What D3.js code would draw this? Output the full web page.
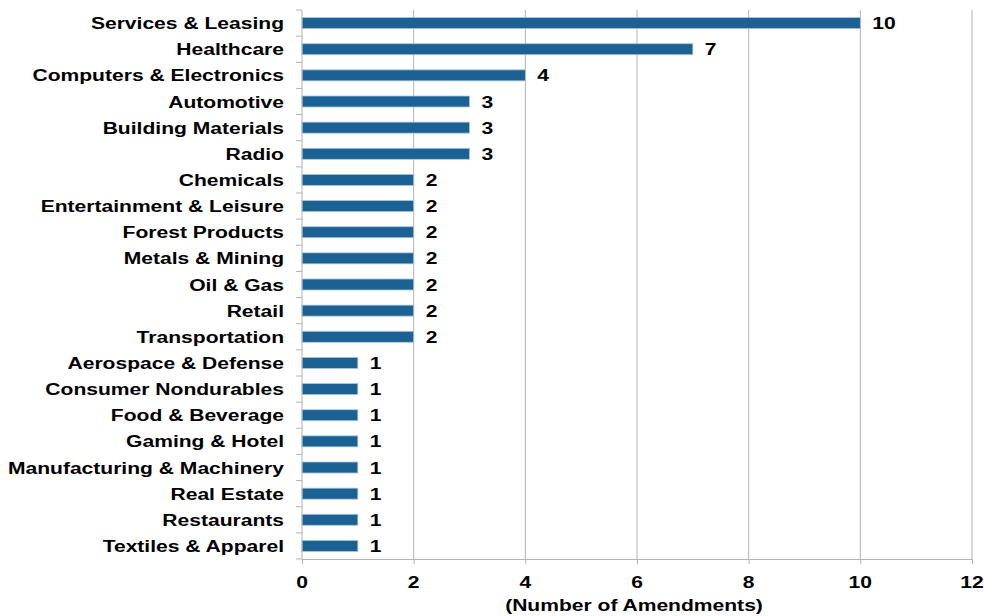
<!DOCTYPE html>
<html>
<head>
<meta charset="utf-8">
<script src="https://cdn.jsdelivr.net/npm/d3@7"></script>
<style>
  html, body { margin: 0; padding: 0; background: #fff; }
  svg { display: block; }
  text { font-family: "Liberation Sans", Arial, sans-serif; font-weight: bold; fill: #000; }
</style>
</head>
<body>
<svg id="chart" width="984" height="616"></svg>
<script>
// Amendments by industry
const categories = [
  "Services & Leasing", "Healthcare", "Computers & Electronics", "Automotive",
  "Building Materials", "Radio", "Chemicals", "Entertainment & Leisure",
  "Forest Products", "Metals & Mining", "Oil & Gas", "Retail", "Transportation",
  "Aerospace & Defense", "Consumer Nondurables", "Food & Beverage",
  "Gaming & Hotel", "Manufacturing & Machinery", "Real Estate", "Restaurants",
  "Textiles & Apparel"
];
const amendments = [10, 7, 4, 3, 3, 3, 2, 2, 2, 2, 2, 2, 2, 1, 1, 1, 1, 1, 1, 1, 1];
const xTicks = [0, 2, 4, 6, 8, 10, 12];
const xTitle = "(Number of Amendments)";

const data = categories.map((c, i) => ({ category: c, value: amendments[i] }));

const svg = d3.select("#chart");
const margin = { left: 302, right: 12, top: 10, bottom: 57 };
const W = 984, H = 616;
const stretch = 1.24;   // wide lettering
const fs = 17;

const x = d3.scaleLinear().domain([0, 12]).range([margin.left, W - margin.right]);
const y = d3.scaleBand().domain(categories).range([margin.top, H - margin.bottom]).paddingInner(0.58).paddingOuter(0.29);
const band = d3.scaleBand().domain(categories).range([margin.top, H - margin.bottom]);

const gridColor = "#b3b3b3";

// places a text at (px, py) with horizontal stretching about its anchor
function placeText(sel, px, py) {
  sel.attr("x", 0).attr("y", 0)
     .attr("transform", (d, i) => `translate(${px(d, i)},${py(d, i)}) scale(${stretch},1)`);
}

// vertical gridlines
svg.append("g").selectAll("line").data(xTicks.filter(d => d > 0)).join("line")
  .attr("x1", d => x(d)).attr("x2", d => x(d))
  .attr("y1", margin.top).attr("y2", H - margin.bottom)
  .attr("stroke", gridColor).attr("stroke-width", 1);

// bars
svg.append("g").selectAll("rect").data(data).join("rect")
  .attr("x", x(0))
  .attr("y", d => y(d.category))
  .attr("width", d => x(d.value) - x(0))
  .attr("height", y.bandwidth())
  .attr("fill", "#1b6193")
  .attr("stroke", "#a9c4dc")
  .attr("stroke-width", 0.8);

// value labels
svg.append("g").selectAll("text").data(data).join("text")
  .attr("dy", "0.36em")
  .attr("font-size", fs)
  .text(d => d.value)
  .call(placeText, d => x(d.value) + 12, d => y(d.category) + y.bandwidth() / 2);

// x axis
const xAxis = svg.append("g")
  .attr("transform", `translate(0,${H - margin.bottom})`)
  .call(d3.axisBottom(x).tickValues(xTicks).tickSize(5).tickPadding(13).tickFormat(() => ""));
xAxis.select(".domain").attr("stroke", gridColor);
xAxis.selectAll(".tick line").attr("stroke", gridColor);
svg.append("g").selectAll("text").data(xTicks).join("text")
  .attr("text-anchor", "middle")
  .attr("dy", "0.71em")
  .attr("font-size", fs)
  .text(d => d)
  .call(placeText, d => x(d), () => H - margin.bottom + 17);

// y axis with ticks between categories
const yAxis = svg.append("g").attr("transform", `translate(${x(0)},0)`);
yAxis.append("line")
  .attr("x1", 0).attr("x2", 0)
  .attr("y1", margin.top).attr("y2", H - margin.bottom)
  .attr("stroke", gridColor);
const boundaries = categories.map(c => band(c)).concat([H - margin.bottom]);
yAxis.selectAll("line.tk").data(boundaries).join("line")
  .attr("class", "tk")
  .attr("x1", -6).attr("x2", 0)
  .attr("y1", d => d).attr("y2", d => d)
  .attr("stroke", gridColor);
yAxis.selectAll("text").data(categories).join("text")
  .attr("dy", "0.36em")
  .attr("text-anchor", "end")
  .attr("font-size", fs)
  .text(d => d)
  .call(placeText, () => -18, d => y(d) + y.bandwidth() / 2);

// axis title
svg.append("text")
  .attr("text-anchor", "middle")
  .attr("font-size", fs)
  .text(xTitle)
  .call(placeText, () => 634, () => 611);
</script>
</body>
</html>
